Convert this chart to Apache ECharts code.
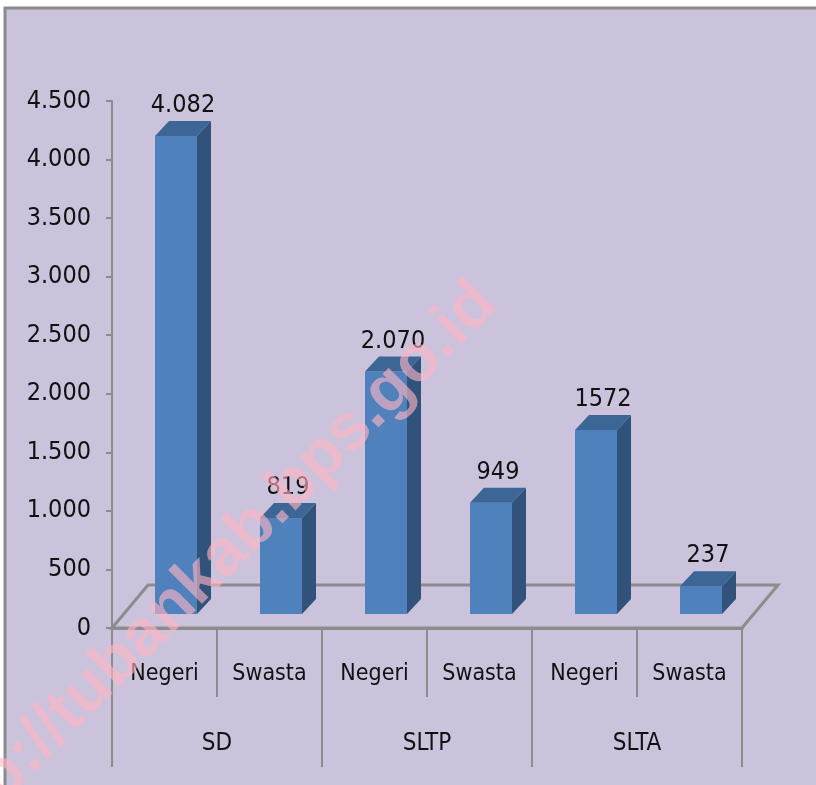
<!DOCTYPE html>
<html>
<head>
<meta charset="utf-8">
<script src="https://cdn.jsdelivr.net/npm/echarts/dist/echarts.min.js"></script>
<style>
  html, body { margin: 0; padding: 0; background: #fff; }
  #chart { width: 816px; height: 785px; }
</style>
</head>
<body>
<div id="chart"></div>
<script>
const categories = ['Negeri', 'Swasta', 'Negeri', 'Swasta', 'Negeri', 'Swasta'];
const groups = ['SD', 'SLTP', 'SLTA'];
const values = [4082, 819, 2070, 949, 1572, 237];
const valueLabels = ['4.082', '819', '2.070', '949', '1572', '237'];
const yTickLabels = ['0', '500', '1.000', '1.500', '2.000', '2.500', '3.000', '3.500', '4.000', '4.500'];

const FONT = "'DejaVu Sans Condensed', 'Liberation Sans', sans-serif";
const AXIS_GRAY = '#8c8c8c';
const FLOOR_DX = 36, FLOOR_DY = -43;   // depth of the floor
const BAR_OFF_X = 11.5, BAR_OFF_Y = -14; // front face of bars sits inside the floor
const BAR_DX = 14, BAR_DY = -15;       // bar depth

const chart = echarts.init(document.getElementById('chart'));

function renderFloor(params, api) {
    const cs = params.coordSys;
    const x0 = cs.x, x1 = cs.x + cs.width, y = cs.y + cs.height;
    return {
        type: 'polygon',
        shape: {points: [[x0, y], [x1, y], [x1 + FLOOR_DX, y + FLOOR_DY], [x0 + FLOOR_DX, y + FLOOR_DY]]},
        style: {fill: 'none', stroke: AXIS_GRAY, lineWidth: 3}
    };
}

function renderBar(params, api) {
    const i = api.value(0);
    const v = api.value(1);
    const base = api.coord([i, 0]);
    const top = api.coord([i, v]);
    const band = api.size([1, 0])[0];
    const w = band * 0.4;
    const cx = base[0] + BAR_OFF_X;
    const x1 = cx - w / 2, x2 = cx + w / 2;
    const yb = base[1] + BAR_OFF_Y, yt = top[1] + BAR_OFF_Y;
    return {
        type: 'group',
        children: [
            {
                type: 'rect',
                shape: {x: x1, y: yt, width: w, height: yb - yt},
                style: {fill: '#4f81bd'}
            },
            {
                type: 'polygon',
                shape: {points: [[x2, yt], [x2 + BAR_DX, yt + BAR_DY], [x2 + BAR_DX, yb + BAR_DY], [x2, yb]]},
                style: {fill: '#31527b'}
            },
            {
                type: 'polygon',
                shape: {points: [[x1, yt], [x1 + BAR_DX, yt + BAR_DY], [x2 + BAR_DX, yt + BAR_DY], [x2, yt]]},
                style: {fill: '#3c6696'}
            },
            {
                type: 'text',
                x: cx + BAR_DX / 2,
                y: yt + BAR_DY - 3,
                style: {
                    text: valueLabels[params.dataIndex],
                    fill: '#111',
                    font: '25px ' + FONT,
                    align: 'center',
                    verticalAlign: 'bottom'
                }
            }
        ]
    };
}

chart.setOption({
    backgroundColor: '#fff',
    animation: false,
    graphic: [
        {
            type: 'rect',
            z: -10,
            shape: {x: 5, y: 8, width: 830, height: 800},
            style: {fill: '#cbc2dc', stroke: '#8a8a8a', lineWidth: 3}
        },
        {
            type: 'text',
            z: 100,
            x: 208,
            y: 572,
            rotation: Math.PI / 4,
            silent: true,
            style: {
                text: 'http://tubankab.bps.go.id',
                font: 'bold 66px "Liberation Sans", Arial, sans-serif',
                fill: 'rgba(255, 180, 195, 0.62)',
                align: 'center',
                verticalAlign: 'middle'
            }
        }
    ],
    grid: {left: 112, right: 74, top: 101, bottom: 157},
    xAxis: [
        {
            type: 'category',
            data: categories,
            position: 'bottom',
            axisLine: {show: true, lineStyle: {color: AXIS_GRAY, width: 3}},
            axisTick: {show: true, interval: 0, length: 69, lineStyle: {color: AXIS_GRAY, width: 2}},
            axisLabel: {interval: 0, margin: 35, color: '#111', fontSize: 23, fontFamily: FONT},
            splitLine: {show: false}
        },
        {
            type: 'category',
            data: groups,
            position: 'bottom',
            axisLine: {show: false},
            axisTick: {show: true, interval: 0, length: 139, lineStyle: {color: AXIS_GRAY, width: 2}},
            axisLabel: {interval: 0, margin: 104, color: '#111', fontSize: 24, fontFamily: FONT},
            splitLine: {show: false}
        }
    ],
    yAxis: {
        type: 'value',
        min: 0,
        max: 4500,
        interval: 500,
        axisLine: {show: true, lineStyle: {color: AXIS_GRAY, width: 2}},
        axisTick: {show: true, length: 6, lineStyle: {color: AXIS_GRAY, width: 2}},
        axisLabel: {
            margin: 21,
            color: '#111',
            fontSize: 25,
            fontFamily: FONT,
            padding: [6, 0, 0, 0],
            formatter: function (value) {
                return yTickLabels[Math.round(value / 500)];
            }
        },
        splitLine: {show: false}
    },
    series: [
        {
            type: 'custom',
            silent: true,
            z: 1,
            renderItem: renderFloor,
            data: [[0, 0]]
        },
        {
            type: 'custom',
            z: 3,
            renderItem: renderBar,
            data: values.map((v, i) => [i, v])
        }
    ]
});
</script>
</body>
</html>
